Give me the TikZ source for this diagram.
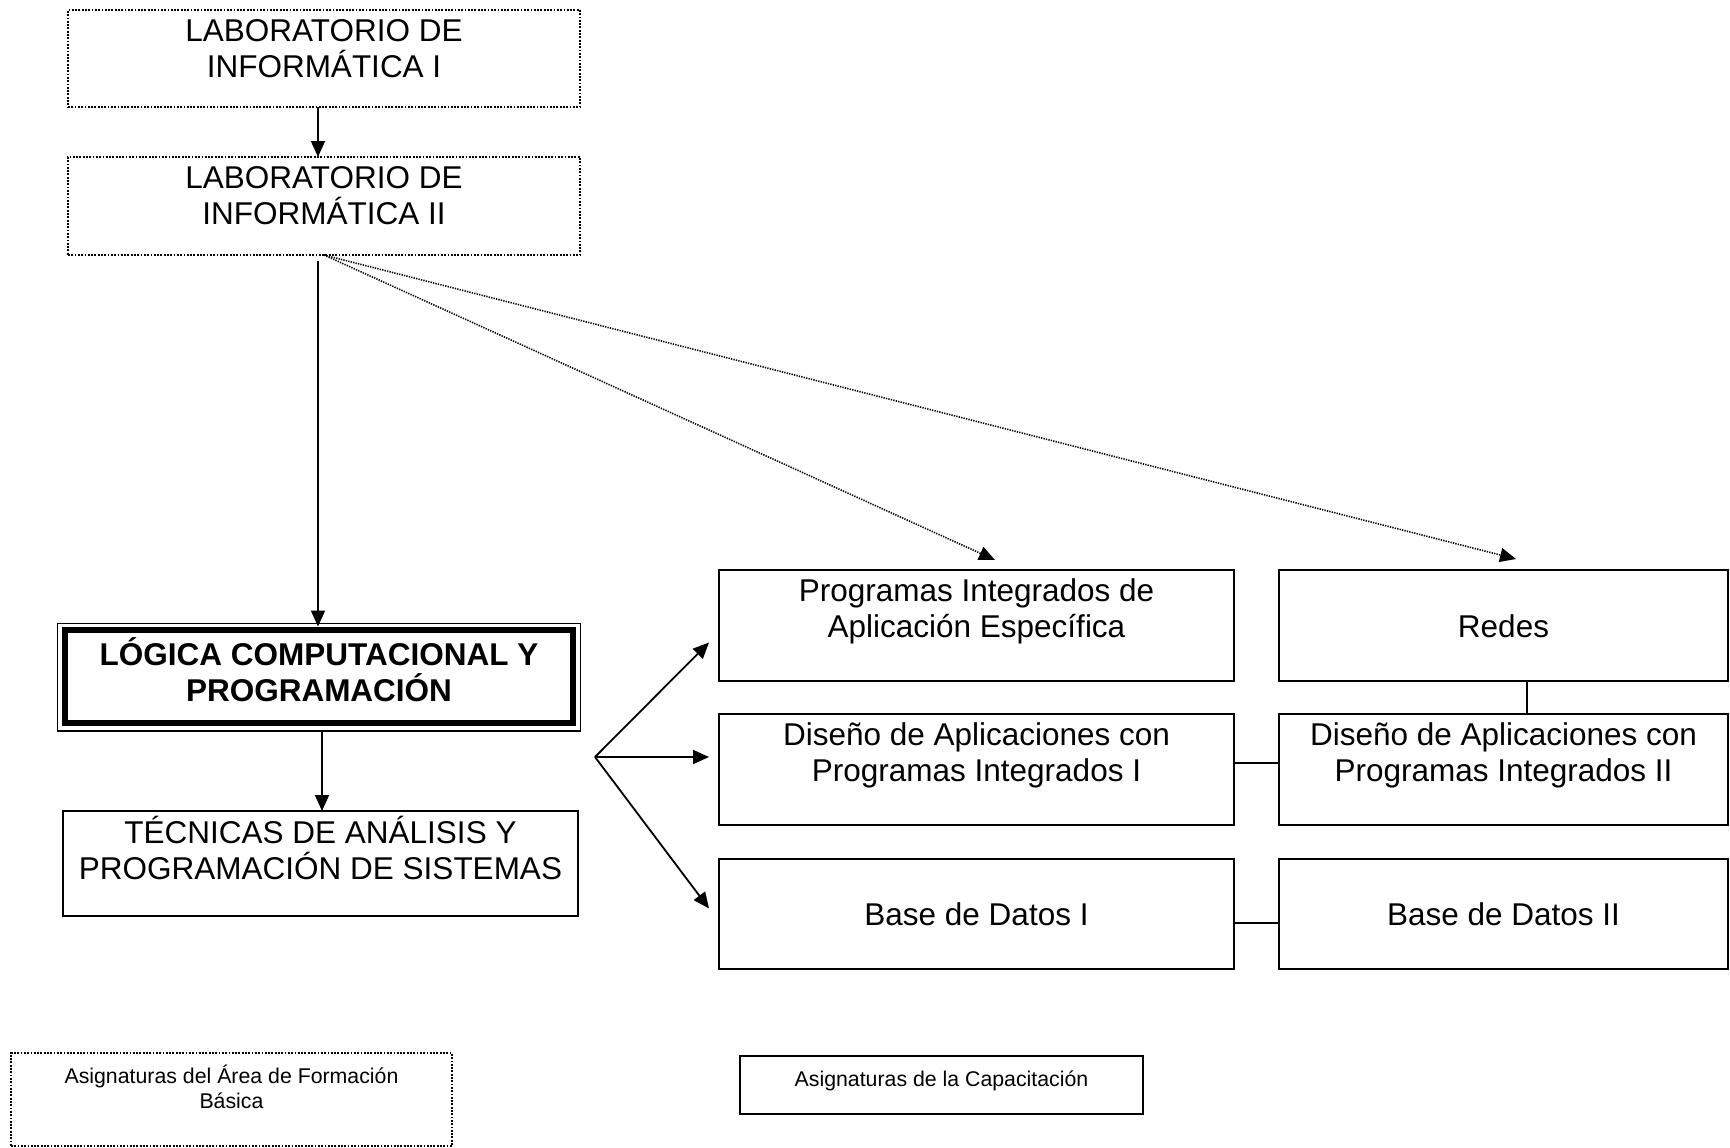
\documentclass[tikz,border=0pt]{standalone}
\usepackage{fontspec}
\setmainfont{Liberation Sans}
\usetikzlibrary{arrows.meta,calc}
\newcommand\mstrutA{\rule[-10.8pt]{0pt}{41pt}}
\newcommand\mstrutB{\rule[-7.4pt]{0pt}{28pt}}
\begin{document}
\begin{tikzpicture}[x=1pt,y=-1pt,
  box/.style={draw, line width=2.6pt, rectangle, inner sep=0pt, outer sep=0pt},
  dotbox/.style={draw, line width=2.4pt, dash pattern=on 1.8pt off 1.5pt, rectangle, inner sep=0pt, outer sep=0pt},
  big/.style={font=\fontsize{31.5}{36}\selectfont, align=center, inner sep=0pt,
    execute at begin node=\mstrutA, execute at end node=\mstrutA},
  bigb/.style={big, font=\fontsize{31.5}{36}\selectfont\bfseries},
  small/.style={font=\fontsize{21.3}{24.5}\selectfont, align=center, inner sep=0pt,
    execute at begin node=\mstrutB, execute at end node=\mstrutB},
  arr/.style={line width=1.8pt, -{Triangle[length=16pt,width=14pt]}},
  darr/.style={line width=1.6pt, dash pattern=on 1.3pt off 1.2pt, -{Triangle[length=16pt,width=14pt]}},
  link/.style={line width=1.6pt}]
\useasboundingbox (0,0) rectangle (1730,1148);

% left column
\node[dotbox, minimum width=512pt, minimum height=97pt] (lab1) at (324,58.5) {};
\node[big] (lab1t) at (324,53.9) {LABORATORIO DE\\INFORMÁTICA I};
\node[dotbox, minimum width=512pt, minimum height=98pt] (lab2) at (324,206) {};
\node[big] (lab2t) at (324,200.9) {LABORATORIO DE\\INFORMÁTICA II};

\node[draw, line width=1.4pt, rectangle, inner sep=0pt, outer sep=0pt,
      minimum width=523pt, minimum height=107.5pt] (log) at (319,677.25) {};
\draw[line width=6pt] ($(log.north west)+(7.5,6)$) rectangle ($(log.south east)+(-7.5,-8.5)$);
\node[bigb] (logt) at (319,674.6) {LÓGICA COMPUTACIONAL Y\\PROGRAMACIÓN};

\node[box, minimum width=515pt, minimum height=105pt] (tec) at (320.5,863.5) {};
\node[big] (tect) at (320.5,853.7) {TÉCNICAS DE ANÁLISIS Y\\PROGRAMACIÓN DE SISTEMAS};

% right columns
\node[box, minimum width=515pt, minimum height=111pt] (prog) at (976.5,625.5) {};
\node[big] (progt) at (976.5,613.9) {Programas Integrados de\\Aplicación Específica};
\node[box, minimum width=515pt, minimum height=111pt] (dis1) at (976.5,769.5) {};
\node[big] (dis1t) at (976.5,757.3) {Diseño de Aplicaciones con\\Programas Integrados I};
\node[box, minimum width=515pt, minimum height=110pt] (bd1) at (976.5,914) {};
\node[big] (bd1t) at (976.5,915.5) {Base de Datos I};

\node[box, minimum width=449pt, minimum height=111pt] (redes) at (1503.5,625.5) {};
\node[big] (redest) at (1503.5,628) {Redes};
\node[box, minimum width=449pt, minimum height=111pt] (dis2) at (1503.5,769.5) {};
\node[big] (dis2t) at (1503.5,757.3) {Diseño de Aplicaciones con\\Programas Integrados II};
\node[box, minimum width=449pt, minimum height=110pt] (bd2) at (1503.5,914) {};
\node[big] (bd2t) at (1503.5,915.5) {Base de Datos II};

% legend
\node[dotbox, minimum width=441pt, minimum height=93pt] (leg1) at (231.5,1099.5) {};
\node[small] (leg1t) at (231.5,1090.5) {Asignaturas del Área de Formación\\Básica};
\node[box, line width=2.4pt, minimum width=403pt, minimum height=58pt] (leg2) at (941.5,1085) {};
\node[small] (leg2t) at (941.5,1080) {Asignaturas de la Capacitación};

% connectors
\draw[arr] ($(lab1.south)+(-6,0)$) -- ($(lab2.north)+(-6,0)$);
\draw[arr] ($(lab2.south)+(-6,6)$) -- ($(lab2.south |- log.north)+(-6,3)$);
\draw[arr] ($(log.south)+(3,0)$) -- ($(log.south |- tec.north)+(3,0)$);

\coordinate (ptip) at (995,560);
\coordinate (rtip) at (1516,559);
\draw[darr] (lab2.south) -- (ptip);
\draw[darr] (lab2.south) -- (rtip);

\coordinate (fan) at (595,757);
\coordinate (f1) at (709,642.5);
\coordinate (f2) at (709,757);
\coordinate (f3) at (709,908.5);
\draw[arr] (fan) -- (f1);
\draw[arr] (fan) -- (f2);
\draw[arr] (fan) -- (f3);

\draw[link] ($(dis1.east)+(0,-6.5)$) -- ($(dis2.west)+(0,-6.5)$);
\draw[link] ($(bd1.east)+(0,9)$) -- ($(bd2.west)+(0,9)$);
\draw[link] ($(redes.south)+(23.5,0)$) -- ($(dis2.north)+(23.5,0)$);
\end{tikzpicture}
\end{document}
